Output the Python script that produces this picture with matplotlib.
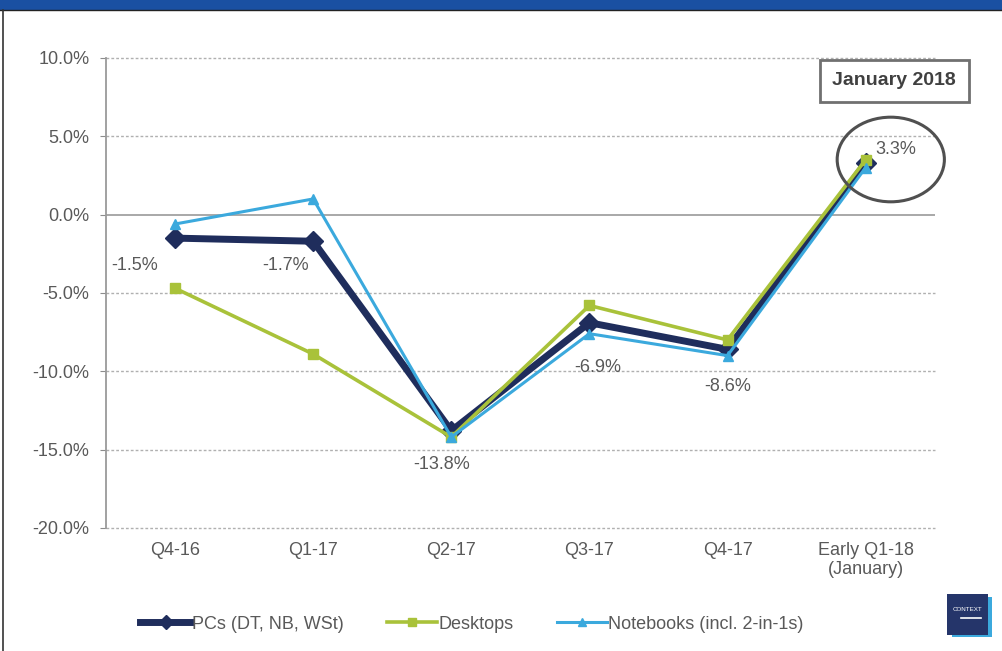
import matplotlib.pyplot as plt
import matplotlib.patches as mpatches
from matplotlib.lines import Line2D
import numpy as np

plt.rcParams['font.family'] = ['Liberation Sans', 'DejaVu Sans']

# data
quarters = ['Q4-16', 'Q1-17', 'Q2-17', 'Q3-17', 'Q4-17', 'Early Q1-18\n(January)']
pcs = [-1.5, -1.7, -13.8, -6.9, -8.6, 3.3]
desktops = [-4.7, -8.9, -14.2, -5.8, -8.0, 3.5]
notebooks = [-0.6, 1.0, -14.2, -7.6, -9.0, 3.0]
pc_labels = ['-1.5%', '-1.7%', '-13.8%', '-6.9%', '-8.6%', '3.3%']
# label offsets in pixels relative to the PCs points
label_offsets = [(-40, -27), (-28, -24), (-10, -34), (8, -45), (0, -37), (30, 13)]

navy = '#1f2d5c'
green = '#a9c23a'
sky = '#3ba9dd'
grey_txt = '#595959'
fs = 13

fig = plt.figure(figsize=(10.02, 6.51), dpi=100)
ax = fig.add_axes([0.1058, 0.189, 0.827, 0.722])

x = np.arange(len(quarters))
ax.plot(x, pcs, color=navy, lw=5, marker='D', ms=10, zorder=3, label='PCs (DT, NB, WSt)')
ax.plot(x, desktops, color=green, lw=2.6, marker='s', ms=7, zorder=4, label='Desktops')
ax.plot(x, notebooks, color=sky, lw=2.2, marker='^', ms=7, zorder=5, label='Notebooks (incl. 2-in-1s)')

for i, (lab, off) in enumerate(zip(pc_labels, label_offsets)):
    ax.annotate(lab, (x[i], pcs[i]), xytext=off, textcoords='offset pixels',
                ha='center', va='center', fontsize=fs, color=grey_txt)

ax.set_xlim(-0.5, 5.5)
ax.set_ylim(-20, 10)
ax.set_yticks(np.arange(-20, 10.1, 5))
ax.set_yticklabels([f'{v:.1f}%' for v in np.arange(-20, 10.1, 5)])
ax.set_xticks(x)
ax.set_xticklabels(quarters)
ax.tick_params(axis='y', length=4, color='#8c8c8c', labelsize=fs, labelcolor=grey_txt, pad=8)
ax.tick_params(axis='x', length=0, labelsize=fs, labelcolor=grey_txt, pad=10)

for v in np.arange(-20, 10.1, 5):
    if v == 0:
        ax.axhline(v, color='#9a9a9a', lw=1.2, zorder=1)
    else:
        ax.axhline(v, color='#b0b0b0', lw=1, ls=(0, (2, 1.5)), zorder=1, clip_on=False)

for s in ['top', 'right', 'bottom']:
    ax.spines[s].set_visible(False)
ax.spines['left'].set_color('#9a9a9a')
ax.spines['left'].set_linewidth(1.3)

# January 2018 box
fig.text(0.8925, 0.876, 'January 2018', ha='center', va='center', fontsize=14,
         fontweight='bold', color='#404040',
         bbox=dict(boxstyle='square,pad=0.65', fc='white', ec='#707070', lw=2))
# circle around the last point
ell = mpatches.Ellipse((0.889, 0.755), 0.107, 0.13, transform=fig.transFigure,
                       fill=False, ec='#505050', lw=2.2)
fig.patches.append(ell)

# legend
handles = [Line2D([], [], color=navy, lw=5, marker='D', ms=7),
           Line2D([], [], color=green, lw=2.6, marker='s', ms=6),
           Line2D([], [], color=sky, lw=2.2, marker='^', ms=6)]
fig.legend(handles, ['PCs (DT, NB, WSt)', 'Desktops', 'Notebooks (incl. 2-in-1s)'],
           loc='center', bbox_to_anchor=(0.471, 0.041), ncol=3, frameon=False,
           fontsize=fs, handlelength=2.8, handletextpad=0.05, columnspacing=2.4,
           labelcolor=grey_txt)

# top band and left frame line
fig.patches.append(mpatches.Rectangle((0, 0.984), 1, 0.016, transform=fig.transFigure,
                                      fc='#1a50a2', ec='none'))
fig.add_artist(Line2D([0, 1], [0.984, 0.984], transform=fig.transFigure, color='#222222', lw=1))
fig.add_artist(Line2D([0.003, 0.003], [0, 0.984], transform=fig.transFigure, color='#333333', lw=1.2))

# small CONTEXT logo
fig.patches.append(mpatches.Rectangle((0.950, 0.021), 0.040, 0.062, transform=fig.transFigure,
                                      fc='#3ba9dd', ec='none'))
fig.patches.append(mpatches.Rectangle((0.945, 0.025), 0.041, 0.062, transform=fig.transFigure,
                                      fc='#25356a', ec='none'))
fig.text(0.9655, 0.063, 'CONTEXT', ha='center', va='center', fontsize=4.5, color='white')
fig.add_artist(Line2D([0.959, 0.979], [0.050, 0.050], transform=fig.transFigure, color='white', lw=1.2))

fig.savefig('out.png', dpi=100)
